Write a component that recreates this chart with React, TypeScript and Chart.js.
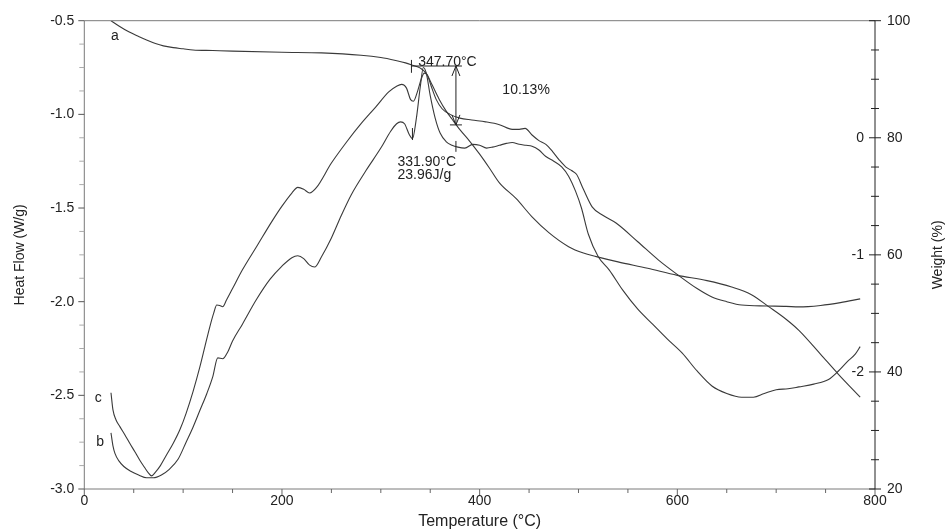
import React, { useEffect, useRef } from "react";
import { Chart, registerables } from "chart.js";

Chart.register(...registerables);

const FONT = "'Liberation Sans', Arial, Helvetica, sans-serif";
const INK = "#222";
const CURVE = "#3a3a3a";

// ---- axes / tick labels ----
const xTicks = [0, 200, 400, 600, 800];
const heatTicks = [-3.0, -2.5, -2.0, -1.5, -1.0, -0.5];
const weightTicks = [20, 40, 60, 80, 100];
const derivTicks = [0, -1, -2];

// ---- curve a : TGA, weight (%) ----
const tempA = [27, 35, 45, 55, 63, 72, 80, 90, 100, 110, 130, 150, 200, 240, 280, 300, 315, 325, 332, 340, 346, 352, 359, 366, 372, 380, 390, 400, 410, 420, 437, 453, 470, 490, 505, 518, 540, 570, 600, 630, 655, 675, 692, 710, 723, 745, 763, 785];
const weightA = [100, 99.1, 98.1, 97.3, 96.7, 96.1, 95.7, 95.4, 95.2, 95.0, 94.9, 94.8, 94.6, 94.5, 94.1, 93.7, 93.2, 92.8, 92.4, 91.9, 91.0, 89.0, 86.6, 84.6, 83.2, 81.4, 79.4, 77.2, 74.8, 72.3, 69.6, 66.5, 63.8, 61.4, 60.3, 59.7, 58.8, 57.7, 56.5, 55.6, 54.5, 53.2, 51.2, 49.0, 47.1, 43.0, 39.6, 35.7];

// ---- curve b : DSC heat flow (W/g) ----
const tempB = [27, 29, 31, 35, 40, 47, 55, 63, 70, 78, 86, 95, 103, 110, 117, 124, 130, 135, 140, 145, 150, 160, 174, 188, 200, 210, 216, 222, 228, 233, 240, 250, 260, 270, 285, 300, 310, 316, 320, 324, 329, 332, 336, 340, 343, 346, 350, 355, 360, 366, 372, 378, 385, 393, 400, 407, 413, 420, 427, 433, 440, 447, 453, 460, 467, 475, 483, 490, 497, 503, 510, 520, 531, 545, 560, 575, 590, 605, 620, 635, 650, 665, 677, 688, 700, 712, 723, 738, 753, 763, 772, 780, 785];
const heatB = [-2.70, -2.77, -2.81, -2.85, -2.88, -2.905, -2.925, -2.94, -2.94, -2.925, -2.895, -2.84, -2.75, -2.67, -2.58, -2.49, -2.40, -2.30, -2.305, -2.27, -2.21, -2.12, -1.99, -1.88, -1.81, -1.765, -1.755, -1.77, -1.805, -1.815, -1.76, -1.66, -1.54, -1.43, -1.30, -1.18, -1.09, -1.05, -1.04, -1.05, -1.11, -1.13, -1.02, -0.85, -0.75, -0.78, -0.90, -1.02, -1.10, -1.145, -1.165, -1.175, -1.18, -1.16, -1.165, -1.18, -1.175, -1.165, -1.155, -1.15, -1.16, -1.165, -1.17, -1.19, -1.225, -1.25, -1.28, -1.33, -1.41, -1.50, -1.64, -1.76, -1.83, -1.94, -2.04, -2.12, -2.20, -2.275, -2.37, -2.45, -2.49, -2.51, -2.51, -2.49, -2.47, -2.465, -2.455, -2.44, -2.415, -2.37, -2.32, -2.28, -2.24];

// ---- curve c : DSC heat flow (W/g) ----
const tempC = [27, 29, 32, 36, 41, 46, 51, 56, 61, 65, 68, 72, 77, 83, 90, 97, 103, 110, 117, 122, 127, 131, 134, 137, 140, 144, 150, 160, 175, 190, 200, 210, 216, 222, 228, 235, 250, 265, 280, 295, 308, 316, 321, 326, 330, 333, 337, 341, 344, 347, 351, 356, 362, 370, 380, 392, 406, 420, 433, 440, 446, 453, 460, 467, 474, 480, 487, 493, 498, 505, 514, 525, 538, 560, 581, 600, 620, 635, 650, 665, 690, 710, 723, 745, 765, 785];
const heatC = [-2.486, -2.578, -2.63, -2.667, -2.71, -2.756, -2.80, -2.845, -2.885, -2.915, -2.93, -2.91, -2.875, -2.82, -2.756, -2.68, -2.596, -2.48, -2.347, -2.24, -2.134, -2.06, -2.018, -2.02, -2.027, -1.99, -1.93, -1.83, -1.70, -1.57, -1.49, -1.42, -1.39, -1.40, -1.42, -1.39, -1.26, -1.15, -1.05, -0.96, -0.88, -0.85, -0.84, -0.86, -0.92, -0.93, -0.88, -0.81, -0.78, -0.79, -0.85, -0.92, -0.97, -1.00, -1.02, -1.03, -1.04, -1.055, -1.08, -1.08, -1.075, -1.11, -1.14, -1.16, -1.20, -1.24, -1.28, -1.30, -1.32, -1.40, -1.495, -1.54, -1.58, -1.68, -1.778, -1.855, -1.93, -1.975, -2.0, -2.018, -2.023, -2.025, -2.028, -2.02, -2.005, -1.985];

// ---- annotation texts ----
const curveLabels = ["a", "b", "c"];
const stepOnsetText = "347.70°C";
const stepChangeText = "10.13%";
const peakTexts = ["331.90°C", "23.96J/g"];

const pts = (xs: number[], ys: number[]) => xs.map((x, i) => ({ x, y: ys[i] }));

const overlay = {
  id: "overlay",
  afterDraw(chart: any) {
    const { ctx, chartArea: ca, scales } = chart;
    const x = scales.x, y = scales.y, y2 = scales.y2, y3 = scales.y3;
    const line = (x1: number, y1: number, x2: number, y2_: number) => {
      ctx.beginPath();
      ctx.moveTo(x1, y1);
      ctx.lineTo(x2, y2_);
      ctx.stroke();
    };
    ctx.save();
    ctx.lineWidth = 1;
    // frame
    ctx.strokeStyle = "#7a7a7a";
    line(ca.left, ca.top, ca.right, ca.top);
    line(ca.left, ca.top, ca.left, ca.bottom);
    line(ca.left, ca.bottom, ca.right, ca.bottom);
    ctx.strokeStyle = "#222";
    line(ca.right, ca.top, ca.right, ca.bottom);

    // x ticks (major 200, minor 50)
    ctx.strokeStyle = "#666";
    for (let v = 0; v <= 800; v += 50) {
      const px = x.getPixelForValue(v);
      const major = v % 200 === 0;
      line(px, ca.bottom, px, ca.bottom + (major ? 6 : 4));
    }
    // left ticks (major 0.5, minor 0.125)
    for (let i = 0; i <= 20; i++) {
      const v = -3 + i * 0.125;
      const py = y.getPixelForValue(v);
      const major = i % 4 === 0;
      ctx.strokeStyle = major ? "#555" : "#aaa";
      line(ca.left - (major ? 6 : 5), py, ca.left, py);
    }
    // right ticks (major 20, minor 5), crossing
    ctx.strokeStyle = "#222";
    for (let w = 20; w <= 100; w += 5) {
      const py = y2.getPixelForValue(w);
      const len = w % 20 === 0 ? 6 : 4;
      line(ca.right - len, py, ca.right + len, py);
    }

    ctx.fillStyle = INK;
    ctx.font = `14px ${FONT}`;
    ctx.textBaseline = "middle";
    // inner derivative labels
    ctx.textAlign = "right";
    derivTicks.forEach((v) => ctx.fillText(String(v), ca.right - 11, y3.getPixelForValue(v)));

    // right title rotated
    ctx.save();
    ctx.translate(938, (ca.top + ca.bottom) / 2);
    ctx.rotate(-Math.PI / 2);
    ctx.textAlign = "center";
    ctx.fillText("Weight (%)", 0, 0);
    ctx.restore();

    // curve labels
    ctx.textAlign = "center";
    ctx.fillText(curveLabels[0], x.getPixelForValue(31), y2.getPixelForValue(97.4));
    ctx.fillText(curveLabels[1], x.getPixelForValue(16), y.getPixelForValue(-2.748));
    ctx.fillText(curveLabels[2], x.getPixelForValue(14), y.getPixelForValue(-2.516));

    // step-change annotation
    ctx.strokeStyle = "#222";
    const xs = x.getPixelForValue(331);
    const xe = x.getPixelForValue(376);
    const yTop = y2.getPixelForValue(92.26);
    const yBot = y2.getPixelForValue(82.2);
    line(xs, yTop, xe + 6, yTop);
    line(xs, y2.getPixelForValue(93.3), xs, y2.getPixelForValue(91.1));
    line(xe, yTop, xe, yBot);
    line(xe - 6, yBot, xe + 6, yBot);
    // arrow heads
    line(xe, yTop, xe - 4, yTop + 10);
    line(xe, yTop, xe + 4, yTop + 10);
    line(xe, yBot, xe - 4, yBot - 10);
    line(xe, yBot, xe + 4, yBot - 10);
    ctx.fillText(stepOnsetText, x.getPixelForValue(367.4), y2.getPixelForValue(92.9));
    ctx.fillText(stepChangeText, x.getPixelForValue(447), y2.getPixelForValue(88.15));

    // peak integration annotation
    const p1 = x.getPixelForValue(332);
    line(p1, y.getPixelForValue(-1.073), p1, y.getPixelForValue(-1.137));
    const p2 = x.getPixelForValue(376);
    line(p2, y.getPixelForValue(-1.142), p2, y.getPixelForValue(-1.2));
    ctx.textAlign = "left";
    ctx.fillText(peakTexts[0], x.getPixelForValue(316.9), y.getPixelForValue(-1.253));
    ctx.fillText(peakTexts[1], x.getPixelForValue(316.9), y.getPixelForValue(-1.324));
    ctx.restore();
  },
};

export default function App() {
  const ref = useRef<HTMLCanvasElement>(null);
  useEffect(() => {
    const canvas = ref.current;
    if (!canvas) return;
    const ds = (data: any[], axis: string) => ({
      data,
      yAxisID: axis,
      borderColor: CURVE,
      borderWidth: 1.1,
      pointRadius: 0,
      fill: false,
      cubicInterpolationMode: "monotone" as const,
    });
    const chart = new Chart(canvas, {
      type: "line",
      data: {
        datasets: [
          ds(pts(tempA, weightA), "y2"),
          ds(pts(tempB, heatB), "y"),
          ds(pts(tempC, heatC), "y"),
        ],
      },
      options: {
        animation: false,
        responsive: false,
        devicePixelRatio: 1,
        layout: { padding: { top: 20.7, left: 0, right: 0, bottom: 0 } },
        plugins: { legend: { display: false }, tooltip: { enabled: false } },
        scales: {
          x: {
            type: "linear",
            position: "bottom",
            min: 0,
            max: 800,
            afterFit: (s: any) => { s.height = 42; },
            grid: { display: false, drawTicks: false },
            border: { display: false },
            afterBuildTicks: (s: any) => { s.ticks = xTicks.map((v) => ({ value: v })); },
            ticks: { padding: 4, color: INK, font: { size: 14, family: FONT }, maxRotation: 0, autoSkip: false },
            title: { display: true, text: "Temperature (°C)", color: INK, font: { size: 16, family: FONT }, padding: { top: 0, bottom: 0 } },
          },
          y: {
            type: "linear",
            position: "left",
            min: -3,
            max: -0.5,
            afterFit: (s: any) => { s.width = 84.3; },
            grid: { display: false, drawTicks: false },
            border: { display: false },
            afterBuildTicks: (s: any) => { s.ticks = heatTicks.map((v) => ({ value: v })); },
            ticks: { padding: 10, color: INK, font: { size: 14, family: FONT }, callback: (v: any) => Number(v).toFixed(1) },
            title: { display: true, text: "Heat Flow (W/g)", color: INK, font: { size: 14, family: FONT }, padding: { top: 12, bottom: 0 } },
          },
          y2: {
            type: "linear",
            position: "right",
            min: 20,
            max: 100,
            afterFit: (s: any) => { s.width = 71; },
            grid: { display: false, drawTicks: false },
            border: { display: false },
            afterBuildTicks: (s: any) => { s.ticks = weightTicks.map((v) => ({ value: v })); },
            ticks: { padding: 12, color: INK, font: { size: 14, family: FONT } },
          },
          y3: { type: "linear", position: "right", min: -3, max: 1, display: false },
        },
      },
      plugins: [overlay],
    });
    return () => chart.destroy();
  }, []);
  return (
    <div style={{ position: "absolute", left: 0, top: 0, width: 946, height: 531, background: "#fff" }}>
      <canvas ref={ref} width={946} height={531} style={{ display: "block", width: 946, height: 531 }} />
    </div>
  );
}
